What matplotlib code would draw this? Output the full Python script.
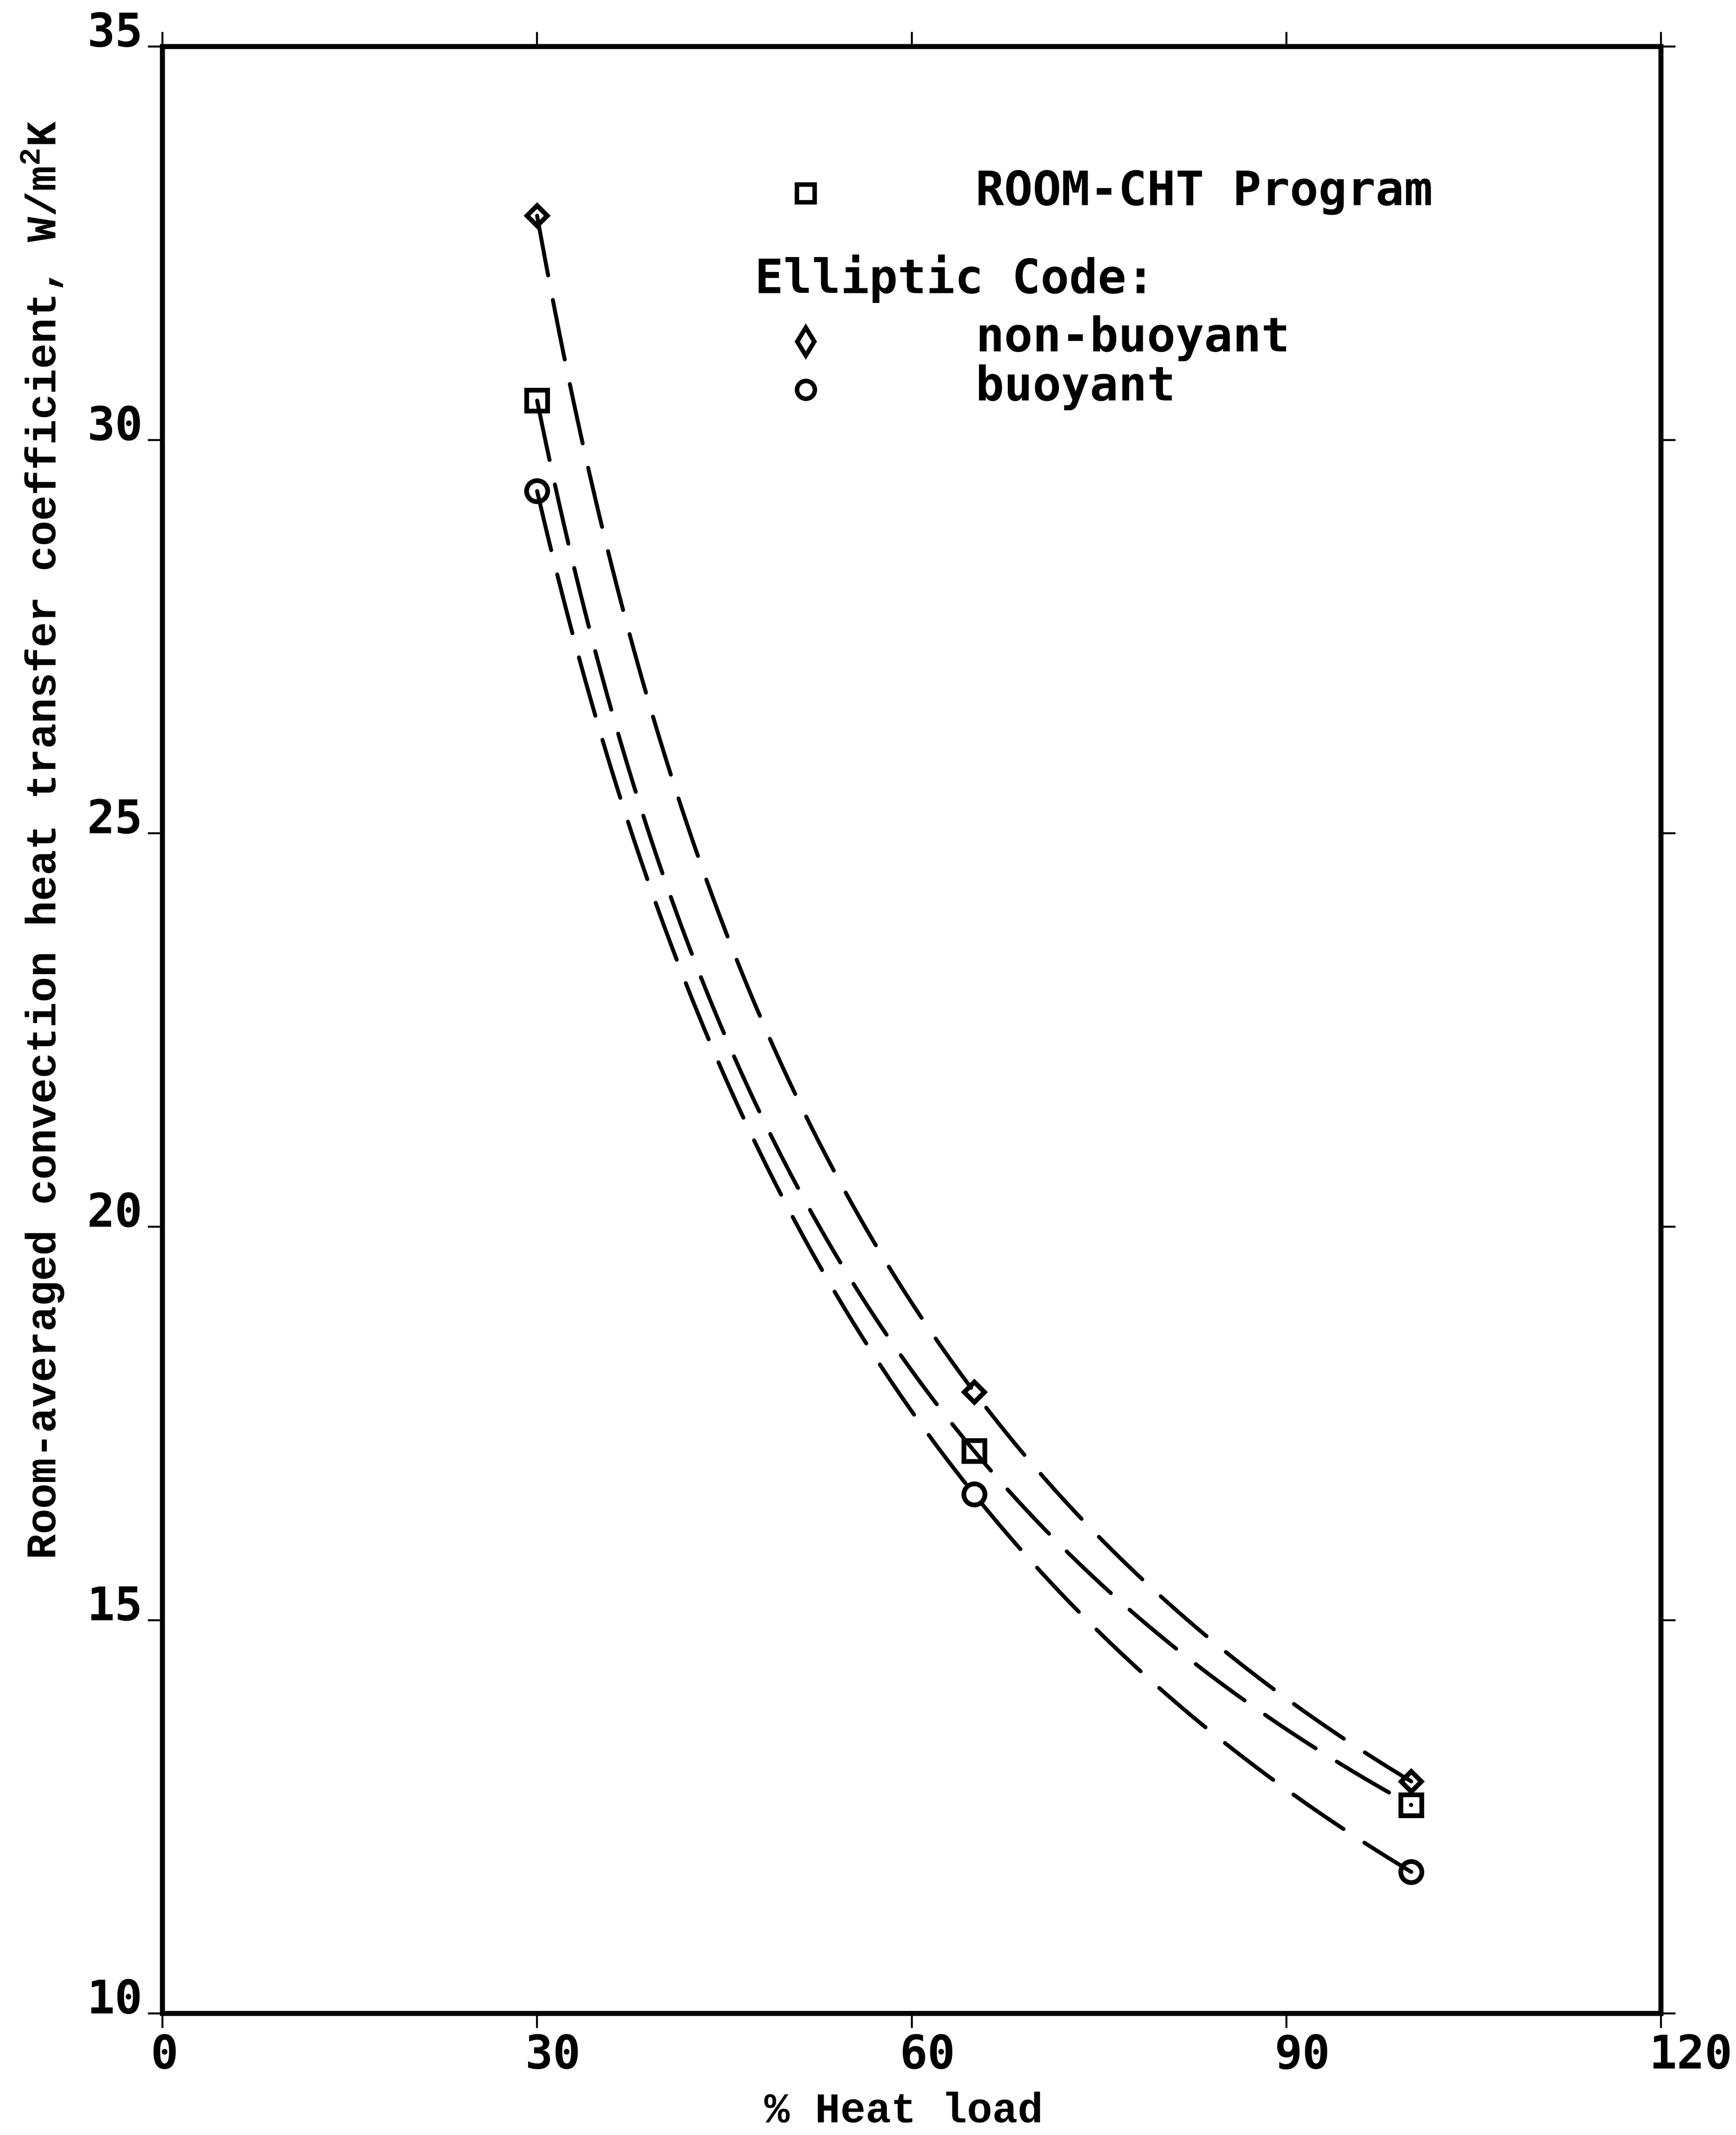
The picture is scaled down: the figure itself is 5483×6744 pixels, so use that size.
import numpy as np
import matplotlib
matplotlib.use("Agg")
import matplotlib.pyplot as plt
from matplotlib.transforms import ScaledTranslation

# Room-averaged convection coefficient (W/m^2K) versus % heat load
heat_load = [30, 65, 100]
room_cht = [30.5, 17.15, 12.65]       # ROOM-CHT Program
non_buoyant = [32.85, 17.9, 12.95]    # Elliptic code, non-buoyant
buoyant = [29.35, 16.6, 11.8]         # Elliptic code, buoyant

x_ticks = [0, 30, 60, 90, 120]
y_ticks = [10, 15, 20, 25, 30, 35]

series_labels = ["ROOM-CHT Program", "non-buoyant", "buoyant"]
legend_header = "Elliptic Code:"

plt.rcParams["mathtext.fontset"] = "custom"
plt.rcParams["mathtext.rm"] = "Liberation Mono:bold"
plt.rcParams["mathtext.default"] = "rm"
plt.rcParams["lines.scale_dashes"] = False

DPI = 300
fig = plt.figure(figsize=(5483 / DPI, 6744 / DPI), dpi=DPI)
ax = fig.add_axes([0.0936, 0.0569, 0.8632, 0.9213])
ax.set_xlim(0, 120)
ax.set_ylim(10, 35)

ink = "black"
line_w = 3.0
dash = (46, 19)


def trend(x, y, n=400):
    """Smooth curve through the points: quadratic in log-log space."""
    lx, ly = np.log(np.asarray(x, float)), np.log(np.asarray(y, float))
    c = np.polyfit(lx, ly, 2)
    xs = np.linspace(min(x), max(x), n)
    return xs, np.exp(np.polyval(c, np.log(xs)))


for vals in (non_buoyant, room_cht, buoyant):
    xs, ys = trend(heat_load, vals)
    ax.plot(xs, ys, color=ink, lw=line_w, dashes=dash, dash_capstyle="round")

mk = dict(linestyle="none", mfc="none", mec=ink, mew=3.6)
ax.plot(heat_load, room_cht, marker="s", ms=16, **mk)
ax.plot(heat_load, non_buoyant, marker="D", ms=11, **mk)
ax.plot(heat_load, buoyant, marker="o", ms=16, **mk)

# Axes frame and ticks
for sp in ax.spines.values():
    sp.set_linewidth(3.8)
    sp.set_color(ink)
ax.set_xticks(x_ticks)
ax.set_yticks(y_ticks)
ax.tick_params(axis="both", which="major", direction="out", length=11,
               width=1.5, color=ink, top=True, right=True,
               labeltop=False, labelright=False)
ax.tick_params(axis="x", pad=4)
ax.tick_params(axis="y", pad=4)

tick_size = 35
tick_font = dict(family="DejaVu Sans Mono", size=tick_size, weight="bold")
ax.set_xticklabels([str(v) for v in x_ticks], **tick_font)
ax.set_yticklabels([str(v) for v in y_ticks], **tick_font)

# x labels: first digit roughly centred on its tick
shift = ScaledTranslation(-0.26 * tick_size / 72, 0, fig.dpi_scale_trans)
for lab in ax.get_xticklabels():
    lab.set_horizontalalignment("left")
    lab.set_transform(lab.get_transform() + shift)
for lab in ax.get_yticklabels():
    lab.set_verticalalignment("baseline")

# Axis titles
label_font = dict(family="Liberation Mono", weight="bold", size=32)
fig.text(0.0246, 0.6065,
         "Room-averaged convection heat transfer coefficient, W/m$^2$K",
         rotation=90, ha="center", va="center", **label_font)
fig.text(0.5205, 0.006, "% Heat load", ha="center", va="baseline", **label_font)

# Key
key_font = dict(family="DejaVu Sans Mono", size=36, weight="bold")
key_mk = dict(linestyle="none", mfc="none", mec=ink, mew=3.4,
              transform=ax.transAxes, clip_on=False)
mx, tx = 0.4293, 0.5426
ax.plot([mx], [0.9253], marker="s", ms=13.5, **key_mk)
ax.text(tx, 0.9194, series_labels[0], transform=ax.transAxes,
        ha="left", va="baseline", **key_font)
ax.text(0.3953, 0.8746, legend_header, transform=ax.transAxes,
        ha="left", va="baseline", **key_font)
ax.plot([mx], [0.8500], marker="d", ms=15, **key_mk)
ax.text(tx, 0.8450, series_labels[1], transform=ax.transAxes,
        ha="left", va="baseline", **key_font)
ax.plot([mx], [0.8255], marker="o", ms=13.5, **key_mk)
ax.text(tx, 0.8200, series_labels[2], transform=ax.transAxes,
        ha="left", va="baseline", **key_font)

fig.savefig("out.png", dpi=DPI, facecolor="white")
